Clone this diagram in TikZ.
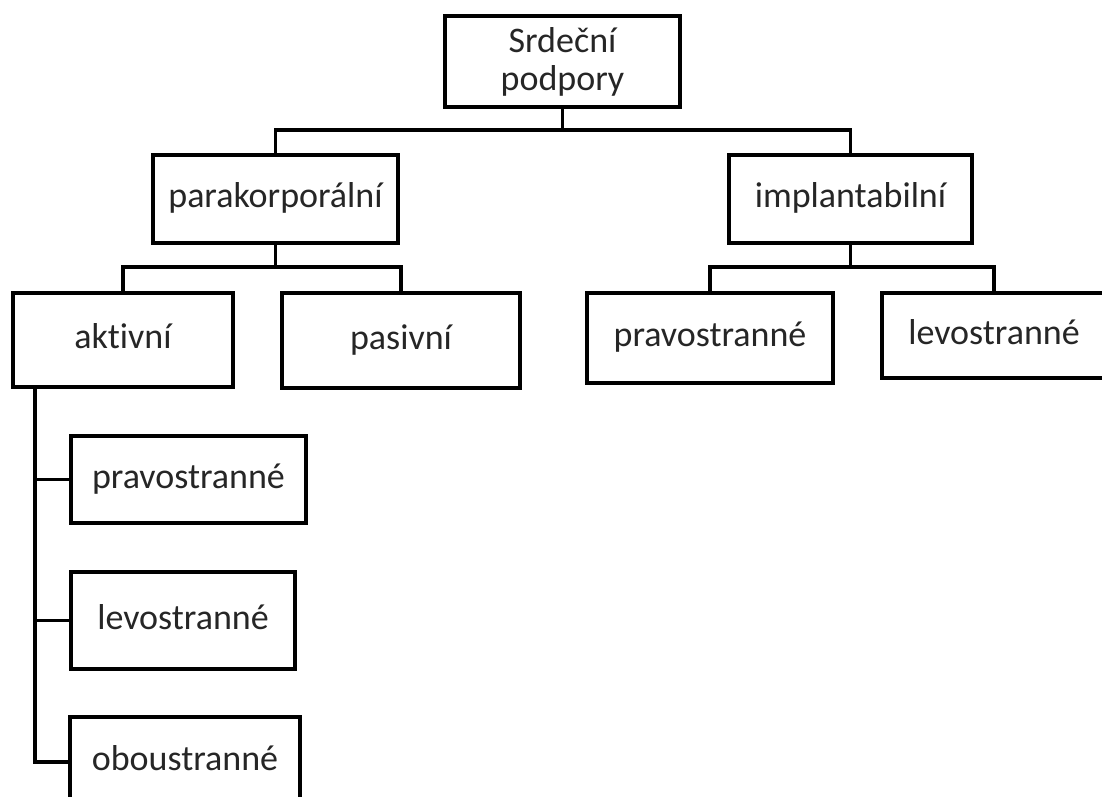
\documentclass[tikz,border=0pt]{standalone}
\usepackage{fontspec}
\setmainfont{Carlito}[Ligatures=NoCommon]
\begin{document}
\begin{tikzpicture}[x=1pt, y=-1pt,
		box/.style={draw, line width=4.5pt, fill=white, text=black!85, align=center, inner sep=2pt, text height=26pt, text depth=9pt, font=\fontsize{36}{38}\selectfont},
		spoj/.style={line width=3.8pt}]
		\clip (0,0) rectangle (1102,796);
		\fill[white] (0,0) rectangle (1102,796);
		\node[box, text height={}, text depth={}, minimum width=235pt, minimum height=91pt] (srdecni) at (562.5,61.5) {Srdeční\\podpory};
		\node[box, minimum width=245pt, minimum height=88pt] (parakorp) at (275.5,199) {parakorporální};
		\node[box, minimum width=243pt, minimum height=88pt] (implant) at (850.5,199) {implantabilní};
		\node[box, minimum width=220pt, minimum height=94pt] (aktivni) at (123,340) {aktivní};
		\node[box, minimum width=238pt, minimum height=95pt] (pasivni) at (401,340.5) {pasivní};
		\node[box, minimum width=246pt, minimum height=90pt] (implPrav) at (710,338) {pravostranné};
		\node[box, minimum width=224pt, minimum height=85pt] (implLev) at (994,335.5) {levostranné};
		\node[box, minimum width=235pt, minimum height=87pt] (aktPrav) at (188.5,479.5) {pravostranné};
		\node[box, minimum width=224pt, minimum height=97pt] (aktLev) at (183,620.5) {levostranné};
		\node[box, minimum width=230pt, minimum height=90pt] (aktObou) at (185,762) {oboustranné};
		\draw[spoj] (srdecni.south) -- ++(0,21) coordinate (rozv) -| (parakorp.north);
		\draw[spoj] (rozv) -| (implant.north);
		\draw[spoj] (parakorp.south) -- ++(0,22) coordinate (rozvP) -| (aktivni.north);
		\draw[spoj] (rozvP) -| (pasivni.north);
		\draw[spoj] (implant.south) -- ++(0,22) coordinate (rozvI) -| (implPrav.north);
		\draw[spoj] (rozvI) -| (implLev.north);
		\draw[spoj] (aktivni.south west) ++(24,0) coordinate (kmen) |- (aktObou.west);
		\draw[spoj] (kmen |- aktPrav.west) -- (aktPrav.west);
		\draw[spoj] (kmen |- aktLev.west) -- (aktLev.west);
	\end{tikzpicture}
\end{document}
